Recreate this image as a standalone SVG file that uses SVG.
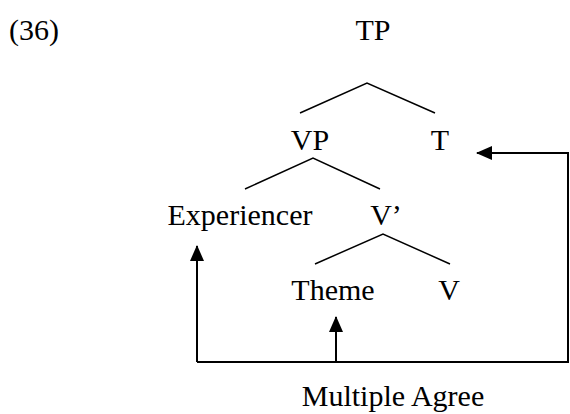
<svg xmlns="http://www.w3.org/2000/svg" width="570" height="414" viewBox="0 0 570 414">
<defs>
<style>
text{font-family:"Liberation Serif","Times New Roman",serif;font-size:30px;fill:#000}
.e{fill:none;stroke:#000;stroke-width:1.5}
.a{fill:none;stroke:#000;stroke-width:2}
</style>
<marker id="ah" viewBox="0 0 16 14" refX="15" refY="7" markerWidth="16" markerHeight="14" markerUnits="userSpaceOnUse" orient="auto">
<path d="M0,0 L16,7 L0,14 Z" fill="#000"/>
</marker>
</defs>
<rect width="570" height="414" fill="#fff"/>
<text id="label36" x="9" y="40">(36)</text>
<g id="TP"><text x="373" y="40" text-anchor="middle">TP</text></g>
<g id="VP"><text x="310" y="150" text-anchor="middle">VP</text></g>
<g id="T"><text x="440" y="150" text-anchor="middle">T</text></g>
<g id="Experiencer"><text x="240" y="225" text-anchor="middle">Experiencer</text></g>
<g id="Vbar"><text x="386" y="225" text-anchor="middle">V’</text></g>
<g id="Theme"><text x="333" y="300" text-anchor="middle">Theme</text></g>
<g id="V"><text x="449" y="300" text-anchor="middle">V</text></g>
<g id="MultipleAgree"><text x="393" y="406" text-anchor="middle">Multiple Agree</text></g>
<g id="connectors">
<polyline class="e" points="300,113 367,83 435,113"/>
<polyline class="e" points="245,189 313,158 380,189"/>
<polyline class="e" points="315,264 383,234 450,264"/>
<polyline class="a" points="197,362 568,362 568,153 477,153" marker-end="url(#ah)"/>
<line class="a" x1="197" y1="362" x2="197" y2="246" marker-end="url(#ah)"/>
<line class="a" x1="336" y1="362" x2="336" y2="317" marker-end="url(#ah)"/>
</g>
</svg>
